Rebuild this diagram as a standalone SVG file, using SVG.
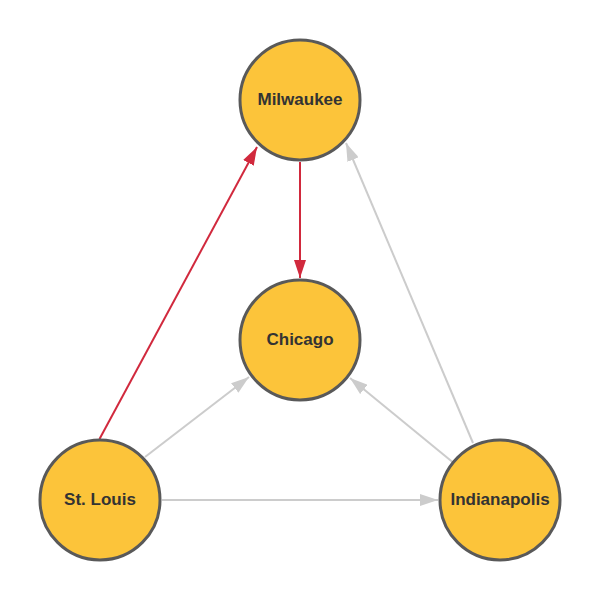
<svg xmlns="http://www.w3.org/2000/svg" width="600" height="600" viewBox="0 0 600 600">
<style>
.node circle{fill:#fcc43a;stroke:#595959;stroke-width:3}
.node text{font-family:"Liberation Sans",Arial,sans-serif;font-weight:bold;font-size:17px;fill:#333;text-anchor:middle;dominant-baseline:central}
.red{stroke:#d1293d;stroke-width:2;fill:none}
.gray{stroke:#cccccc;stroke-width:2;fill:none}
</style>
<defs>
<marker id="ar" markerUnits="userSpaceOnUse" markerWidth="18" markerHeight="12" refX="18" refY="6" orient="auto"><path d="M0,0 L18,6 L0,12 z" fill="#d1293d"/></marker>
<marker id="ag" markerUnits="userSpaceOnUse" markerWidth="18" markerHeight="12" refX="18" refY="6" orient="auto"><path d="M0,0 L18,6 L0,12 z" fill="#cccccc"/></marker>
</defs>
<rect width="600" height="600" fill="#fff"/>
<g id="connectors">
<line class="red" x1="99.5" y1="439" x2="257" y2="147" marker-end="url(#ar)"/>
<line class="red" x1="300" y1="162" x2="300" y2="278" marker-end="url(#ar)"/>
<line class="gray" x1="473" y1="443" x2="346" y2="143" marker-end="url(#ag)"/>
<line class="gray" x1="145" y1="457" x2="249" y2="377" marker-end="url(#ag)"/>
<line class="gray" x1="452.5" y1="462" x2="350" y2="378" marker-end="url(#ag)"/>
<line class="gray" x1="162" y1="500" x2="438" y2="500" marker-end="url(#ag)"/>
</g>
<g id="milwaukee" class="node"><circle cx="300" cy="100" r="60"/><text x="300" y="99">Milwaukee</text></g>
<g id="chicago" class="node"><circle cx="300" cy="340" r="60"/><text x="300" y="339">Chicago</text></g>
<g id="stlouis" class="node"><circle cx="100" cy="500" r="60"/><text x="100" y="499">St. Louis</text></g>
<g id="indianapolis" class="node"><circle cx="500" cy="500" r="60"/><text x="500" y="499">Indianapolis</text></g>
</svg>
